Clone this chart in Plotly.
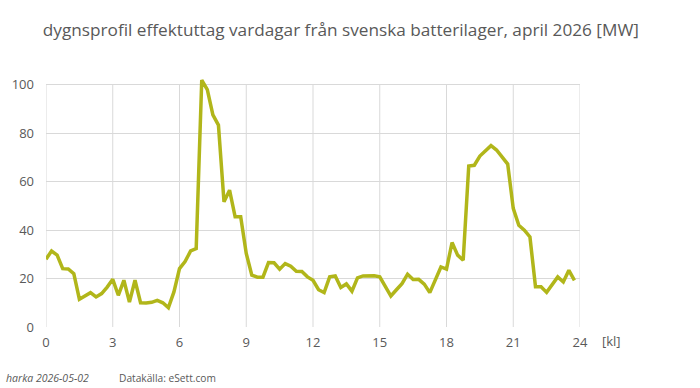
import plotly.graph_objects as go

hours = [i * 0.25 for i in range(96)]
mw = [28, 31.4, 29.7, 24.1, 24, 22, 11.5, 12.7, 14.2, 12.4, 13.8, 16.5,
      19.7, 13.1, 19.3, 10.3, 19.3, 10, 9.9, 10.2, 11, 10, 8, 14.5,
      24.1, 27, 31.4, 32.4, 102, 98, 87.6, 83.4, 51.7, 56.5, 45.5, 45.5,
      30.4, 21.4, 20.6, 20.6, 26.6, 26.5, 23.9, 26.2, 25.1, 23, 22.9, 20.7,
      19.3, 15.4, 14.2, 20.7, 21.1, 16.3, 17.8, 14.8, 20.3, 21.1, 21.1, 21.2,
      20.7, 16.6, 12.8, 15.4, 17.9, 21.8, 19.6, 19.7, 17.7, 14.2, 19.3, 24.8,
      23.9, 34.9, 29.7, 27.6, 66.5, 66.8, 70.6, 72.8, 74.9, 73.1, 70.3, 67.3,
      49, 42, 40, 37.2, 16.6, 16.6, 14.3, 17.7, 20.7, 18.6, 23.4, 19.3]
x_ticks = [0, 3, 6, 9, 12, 15, 18, 21, 24]
y_ticks = [0, 20, 40, 60, 80, 100]

title = "dygnsprofil effektuttag vardagar från svenska batterilager, april 2026 [MW]"
grey = "#595959"
grid = "#d9d9d9"
font = "Open Sans"

fig = go.Figure()
fig.add_trace(go.Scatter(x=hours, y=mw, mode="lines",
                         line=dict(color="#b1b61a", width=3.5),
                         hoverinfo="x+y"))

shapes = [dict(type="line", xref="x", yref="y", x0=t, x1=t, y0=0, y1=100,
               line=dict(color=grid, width=1), layer="below") for t in x_ticks]

fig.update_layout(
    width=700, height=388,
    margin=dict(l=46, r=120, t=74, b=61),
    paper_bgcolor="white", plot_bgcolor="white",
    showlegend=False,
    font=dict(family=font, color=grey, size=12),
    title=dict(text=title, x=0.487, xref="container", xanchor="center",
               y=0.923, yref="container", yanchor="middle",
               font=dict(family=font, size=17.2, color=grey)),
    xaxis=dict(range=[0, 24], tickvals=x_ticks, ticktext=[str(t) for t in x_ticks],
               showgrid=False, zeroline=False, showline=False, ticks="",
               ticklabelstandoff=6,
               tickfont=dict(size=13, color=grey), fixedrange=True),
    yaxis=dict(range=[0, 104.5], tickvals=y_ticks, ticktext=[str(t) for t in y_ticks],
               showgrid=True, gridcolor=grid, gridwidth=1, zeroline=False,
               showline=False, ticks="", ticklabelstandoff=11,
               tickfont=dict(size=13, color=grey), fixedrange=True),
    shapes=shapes,
    annotations=[
        dict(text="[kl]", xref="paper", yref="paper", x=1.0, y=0, xshift=20,
             yshift=-14, xanchor="left", yanchor="middle", showarrow=False,
             font=dict(size=13, color=grey)),
        dict(text="<i>harka 2026-05-02</i>", xref="paper", yref="paper", x=0, y=0,
             xshift=-42, yshift=-51, xanchor="left", yanchor="middle", showarrow=False,
             font=dict(size=10.5, color=grey)),
        dict(text="Datakälla: eSett.com", xref="paper", yref="paper", x=0, y=0,
             xshift=71, yshift=-51, xanchor="left", yanchor="middle", showarrow=False,
             font=dict(size=10.2, color=grey)),
    ],
)

fig.write_html("out.html")
